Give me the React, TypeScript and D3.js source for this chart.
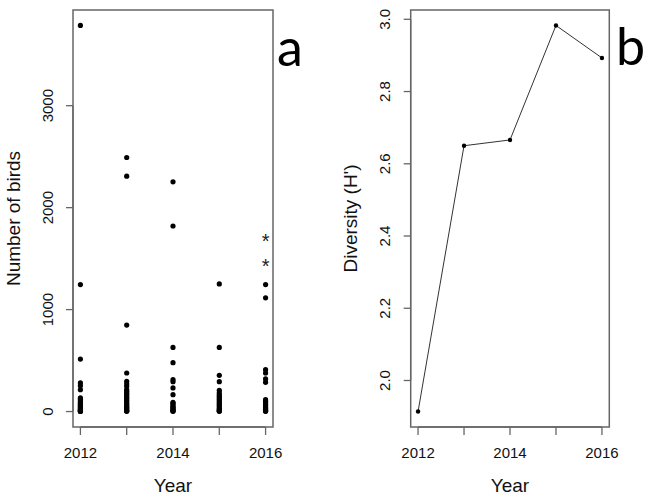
import React from "react";
import * as d3 from "d3";

const years = [2012, 2013, 2014, 2015, 2016];
const birds2012 = [3787, 1245, 515, 281, 254, 215, 135, 120, 105, 90, 80, 70, 60, 50, 40, 30, 20, 15, 10, 5, 2, 1];
const birds2013 = [2492, 2309, 848, 378, 297, 271, 248, 215, 200, 185, 170, 155, 140, 125, 110, 95, 80, 65, 50, 40, 30, 20, 10, 5, 2];
const birds2014 = [2253, 1820, 629, 479, 313, 293, 232, 166, 91, 80, 65, 50, 40, 30, 20, 10, 5, 2];
const birds2015 = [1252, 629, 355, 293, 208, 183, 165, 150, 135, 120, 105, 90, 75, 60, 45, 30, 20, 10, 5, 2];
const birds2016 = [1245, 1115, 411, 378, 320, 287, 117, 100, 85, 70, 55, 40, 30, 20, 10, 5, 2];
const birdsByYear = [birds2012, birds2013, birds2014, birds2015, birds2016];
const asteriskYear = [2016, 2016];
const asteriskValue = [1715, 1465];
const diversity = [1.914, 2.65, 2.666, 2.983, 2.893];
const xTickLabels = ["2012", "2014", "2016"];
const birdTicks = [0, 1000, 2000, 3000];
const divTicks = [2.0, 2.2, 2.4, 2.6, 2.8, 3.0];

const W = 649;
const H = 499;
const TOP = 10;
const BOTTOM = 427;
const FONT = "'Liberation Sans', Arial, sans-serif";
const BOX = "#666";

function pad(ext: [number, number]): [number, number] {
  const r = ext[1] - ext[0];
  return [ext[0] - 0.04 * r, ext[1] + 0.04 * r];
}

export default function App() {
  const allBirds = birdsByYear.flat();
  const xA = d3.scaleLinear().domain(pad([2012, 2016])).range([73, 273]);
  const yA = d3.scaleLinear().domain(pad([0, d3.max(allBirds) as number])).range([BOTTOM, TOP]);
  const xB = d3.scaleLinear().domain(pad([2012, 2016])).range([410.7, 609.3]);
  const yB = d3.scaleLinear().domain(pad(d3.extent(diversity) as [number, number])).range([BOTTOM, TOP]);
  const line = d3.line<number>().x((_, i) => xB(years[i])).y((d) => yB(d));

  const xAxis = (x: d3.ScaleLinear<number, number>, key: string) => (
    <g key={key}>
      <line x1={x(2012)} x2={x(2016)} y1={BOTTOM} y2={BOTTOM} stroke={BOX} strokeWidth={1.3} />
      {years.map((yr) => (
        <line key={yr} x1={x(yr)} x2={x(yr)} y1={BOTTOM} y2={BOTTOM + 8} stroke={BOX} strokeWidth={1.3} />
      ))}
      {xTickLabels.map((t) => (
        <text key={t} x={x(+t)} y={458} textAnchor="middle" fontSize={15} fontFamily={FONT} fill="#111">
          {t}
        </text>
      ))}
      <text x={(x.range()[0] + x.range()[1]) / 2} y={492} textAnchor="middle" fontSize={19} fontFamily={FONT} fill="#111">
        Year
      </text>
    </g>
  );

  const yAxis = (
    y: d3.ScaleLinear<number, number>,
    ticks: number[],
    left: number,
    labelX: number,
    fmt: (v: number) => string
  ) => (
    <g>
      <line x1={left} x2={left} y1={y(ticks[0])} y2={y(ticks[ticks.length - 1])} stroke={BOX} strokeWidth={1.3} />
      {ticks.map((t) => (
        <g key={t}>
          <line x1={left - 7} x2={left} y1={y(t)} y2={y(t)} stroke={BOX} strokeWidth={1.3} />
          <text
            transform={`translate(${labelX},${y(t)}) rotate(-90)`}
            textAnchor="middle"
            fontSize={15}
            fontFamily={FONT}
            fill="#111"
          >
            {fmt(t)}
          </text>
        </g>
      ))}
    </g>
  );

  return (
    <svg width={W} height={H} style={{ position: "absolute", left: 0, top: 0, background: "#fff" }}>
      <rect x={0} y={0} width={W} height={H} fill="#fff" />
      {/* Panel a */}
      <rect x={73} y={TOP} width={200} height={BOTTOM - TOP} fill="none" stroke={BOX} strokeWidth={1.5} />
      {xAxis(xA, "xa")}
      {yAxis(yA, birdTicks, 73, 53, (v) => String(v))}
      <text transform={`translate(20,${(TOP + BOTTOM) / 2}) rotate(-90)`} textAnchor="middle" fontSize={19} fontFamily={FONT} fill="#111">
        Number of birds
      </text>
      {birdsByYear.map((arr, i) =>
        arr.map((v, j) => <circle key={`${i}-${j}`} cx={xA(years[i])} cy={yA(v)} r={2.6} fill="#000" />)
      )}
      {asteriskValue.map((v, i) => (
        <text key={i} x={xA(asteriskYear[i])} y={yA(v) + 11} textAnchor="middle" fontSize={20} fontFamily={FONT} fill="#222">
          *
        </text>
      ))}
      <text x={277} y={66} fontSize={52} fontFamily="Lato, 'Open Sans', sans-serif" fill="#000">
        a
      </text>

      {/* Panel b */}
      <rect x={410.7} y={TOP} width={198.6} height={BOTTOM - TOP} fill="none" stroke={BOX} strokeWidth={1.5} />
      {xAxis(xB, "xb")}
      {yAxis(yB, divTicks, 410.7, 390, (v) => v.toFixed(1))}
      <text transform={`translate(357,${(TOP + BOTTOM) / 2}) rotate(-90)`} textAnchor="middle" fontSize={19} fontFamily={FONT} fill="#111">
        Diversity (H')
      </text>
      <path d={line(diversity) || ""} fill="none" stroke="#333" strokeWidth={1} />
      {diversity.map((v, i) => (
        <circle key={i} cx={xB(years[i])} cy={yB(v)} r={2.2} fill="#000" />
      ))}
      <text x={616} y={65} fontSize={52} fontFamily="Lato, 'Open Sans', sans-serif" fill="#000">
        b
      </text>
    </svg>
  );
}
